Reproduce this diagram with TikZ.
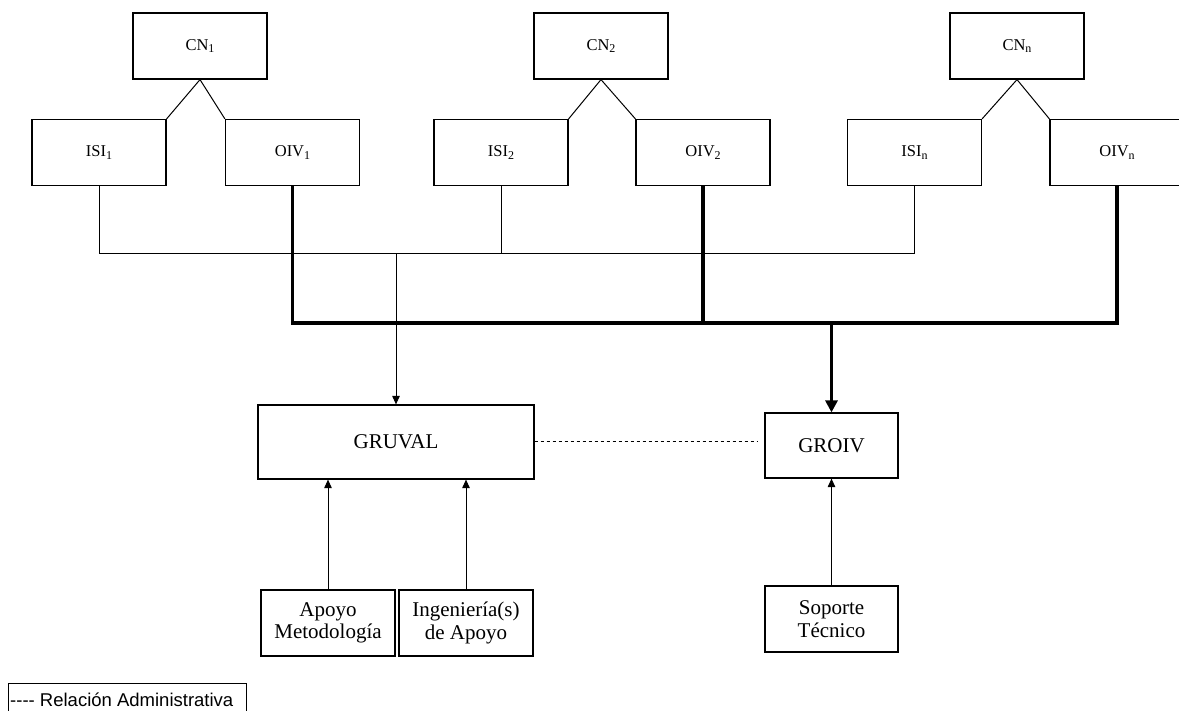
\documentclass[tikz,border=0pt]{standalone}
\usepackage{fontspec}
\setmainfont{Liberation Serif}
\newfontfamily\legfont[Ligatures=TeXOff]{Liberation Sans}
\usetikzlibrary{arrows.meta}
\newcommand\mysubs[1]{\raisebox{-0.35ex}{\fontsize{12}{12}\selectfont #1}}
\begin{document}
\begin{tikzpicture}[x=1pt,y=-1pt,
  box/.style={draw, line width=1.2pt, inner sep=0pt, minimum width=134pt, minimum height=66pt, font=\fontsize{16.5}{18}\selectfont},
  bigbox/.style={draw, line width=1.2pt, inner sep=0pt, align=center, font=\fontsize{21}{22.5}\selectfont},
  thinline/.style={line width=1pt},
  heavy/.style={line width=3.4pt},
  tip/.style={-{Triangle[length=8.5pt,width=7.5pt]}},
  bigtip/.style={-{Triangle[length=12pt,width=12pt]}}
]
\useasboundingbox (0,0) rectangle (1179,711);
% top tier
\node[box] (cn1) at (200,46) {CN\mysubs{1}};
\node[box] (isi1) at (99,152.5) {ISI\mysubs{1}};
\node[box] (oiv1) at (292.5,152.5) {OIV\mysubs{1}};
\node[box] (cn2) at (601,46) {CN\mysubs{2}};
\node[box] (isi2) at (501,152.5) {ISI\mysubs{2}};
\node[box] (oiv2) at (703,152.5) {OIV\mysubs{2}};
\node[box] (cnn) at (1017,46) {CN\mysubs{n}};
\node[box] (isin) at (914.5,152.5) {ISI\mysubs{n}};
\node[box] (oivn) at (1117,152.5) {OIV\mysubs{n}};
\foreach \c/\i/\o in {cn1/isi1/oiv1, cn2/isi2/oiv2, cnn/isin/oivn}{
  \draw[thinline] (\i.north east) -- (\c.south) -- (\o.north west);
}
% bus lines
\coordinate (hl) at (0,254);
\coordinate (tl) at (0,323);
\draw[thinline] (isi1.south) |- (isin.south |- hl) -- (isin.south);
\draw[thinline] (isi2.south) -- (isi2.south |- hl);
\draw[heavy] (oiv1.south) |- (oivn.south |- tl) -- (oivn.south);
\draw[heavy] (oiv2.south) -- (oiv2.south |- tl);
% lower tier
\node[bigbox, minimum width=276pt, minimum height=74pt] (gruval) at (396,442) {GRUVAL};
\node[bigbox, minimum width=133pt, minimum height=65pt] (groiv) at (831.5,445.5) {GROIV};
\node[bigbox, minimum width=134pt, minimum height=66pt] (apoyo) at (328,623) {Apoyo\\Metodología};
\node[bigbox, minimum width=134pt, minimum height=66pt] (ing) at (466,623) {Ingeniería(s)\\de Apoyo};
\node[bigbox, minimum width=133pt, minimum height=66pt] (sop) at (831.5,619) {Soporte\\Técnico};
\draw[thinline,tip] (gruval.north |- hl) -- (gruval.north);
\draw[heavy,bigtip] (groiv.north |- tl) -- (groiv.north);
\draw[thinline,tip] (apoyo.north) -- (apoyo.north |- gruval.south);
\draw[thinline,tip] (ing.north) -- (ing.north |- gruval.south);
\draw[thinline,tip] (sop.north) -- (groiv.south);
\coordinate (dotend) at (757,442);
\draw[thinline, dash pattern=on 3pt off 3pt] (gruval.east) -- (dotend);
% legend
\node[draw, line width=1pt, anchor=north west, inner sep=0pt, minimum width=238pt, minimum height=30pt] (legbox) at (8,683) {};
\node[anchor=base west, inner sep=0pt, font=\legfont\fontsize{18.5}{20}\selectfont] (legtext) at (10,706) {---- Relación Administrativa};
\end{tikzpicture}
\end{document}
